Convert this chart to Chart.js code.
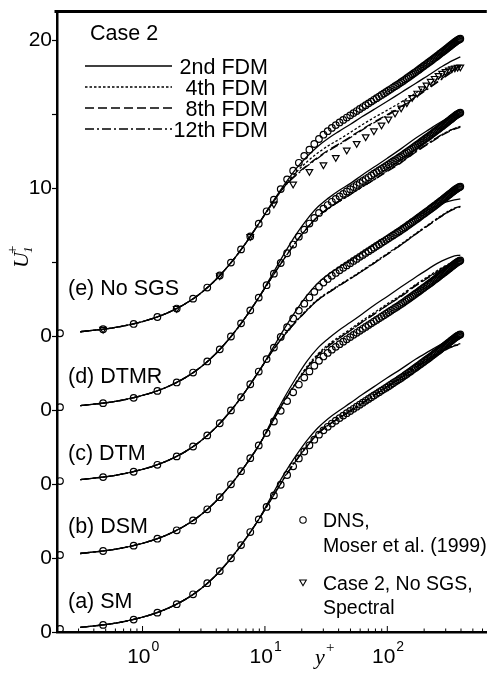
<!DOCTYPE html>
<html lang="en">
<head>
<meta charset="UTF-8">
<title>Case 2 mean velocity profiles</title>
<script src="https://cdn.jsdelivr.net/npm/chart.js@4"></script>
<style>
  html, body { margin: 0; padding: 0; background: #fff; overflow: hidden; }
</style>
</head>
<body>
<canvas id="profileChart" width="492" height="677"></canvas>
<script>
// ---- values ----
const caseNames = ['(a) SM', '(b) DSM', '(c) DTM', '(d) DTMR', '(e) No SGS'];
const caseOffsets = [0, 5, 10, 15, 20];           // each profile is shifted up by 5
const schemeNames = ['2nd FDM', '4th FDM', '8th FDM', '12th FDM'];
const xLabelPowers = [0, 1, 2];
const yTickValues = [0, 5, 10, 15, 20, 30, 40];
const yTickText = ['0', '0', '0', '0', '0', '10', '20'];

// DNS, Moser et al. (1999), Re_tau = 395
const dnsYplus = [0.2115, 0.476, 0.846, 1.322, 1.902, 2.588, 3.379, 4.275, 5.276, 6.38,
  7.59, 8.902, 10.318, 11.838, 13.459, 15.18, 17.01, 18.93, 20.96,
  23.09, 25.32, 27.65, 30.07, 32.58, 35.21, 37.92, 40.73, 43.64, 46.64,
  49.73, 52.92, 56.20, 59.56, 63.04, 66.57, 70.23, 73.95, 77.73, 81.63,
  85.65, 89.66, 93.81, 98.02, 102.3, 106.7, 111.2, 115.7, 120.3, 125.0,
  129.7, 134.6, 139.5, 144.4, 149.5, 154.5, 159.7, 164.9, 170.2, 175.6,
  181.0, 186.4, 191.9, 197.5, 203.1, 208.8, 214.5, 220.3, 226.1, 232.0,
  237.9, 243.8, 249.9, 255.9, 261.9, 268.0, 274.2, 280.3, 286.6, 292.8,
  299.0, 305.3, 311.6, 317.9, 324.3, 330.7, 337.0, 343.4, 349.9, 356.3,
  362.7, 369.2, 375.6, 382.1, 388.5, 395.0];
const dnsU = [0.21, 0.48, 0.84, 1.31, 1.88, 2.55, 3.30, 4.12, 4.99, 5.88,
  6.76, 7.62, 8.46, 9.24, 9.96, 10.62, 11.21, 11.74, 12.21, 12.63,
  13.01, 13.35, 13.64, 13.88, 14.10, 14.29, 14.47, 14.64, 14.80, 14.95,
  15.10, 15.24, 15.38, 15.51, 15.64, 15.76, 15.88, 16.00, 16.11, 16.22,
  16.33, 16.43, 16.53, 16.63, 16.73, 16.83, 16.92, 17.01, 17.10, 17.19,
  17.28, 17.37, 17.46, 17.55, 17.63, 17.72, 17.80, 17.88, 17.96, 18.04,
  18.12, 18.20, 18.27, 18.35, 18.42, 18.49, 18.56, 18.63, 18.70, 18.77,
  18.84, 18.90, 18.97, 19.03, 19.10, 19.16, 19.22, 19.28, 19.34, 19.40,
  19.46, 19.52, 19.58, 19.63, 19.69, 19.74, 19.80, 19.85, 19.90, 19.95,
  19.99, 20.03, 20.07, 20.10, 20.13];

// LES grid and the near-wall part shared by all runs (y+ < 10)
const lesYplus = [0.31, 0.6, 1, 1.5, 2.2, 3, 4, 5.3, 7, 9,
  11.5, 14.5, 18, 22, 27, 33, 40, 50, 62, 78, 100, 130, 170, 220, 280, 340, 395];
const lesWallU = [0.31, 0.6, 1.0, 1.49, 2.17, 2.93, 3.86, 5.0, 6.33, 7.68];

// (a) SM, from y+ = 11.5 outwards
const sm2  = [9.3, 10.75, 11.95, 12.95, 13.8, 14.45, 14.95, 15.5, 16.05, 16.6, 17.2, 17.8, 18.45, 19.0, 19.5, 19.85, 20.0];
const sm4  = [9.15, 10.5, 11.65, 12.6, 13.45, 14.05, 14.5, 15.0, 15.5, 16.05, 16.65, 17.25, 17.95, 18.55, 19.05, 19.35, 19.5];
const sm8  = [9.1, 10.45, 11.6, 12.55, 13.4, 14.0, 14.45, 14.95, 15.45, 16.0, 16.6, 17.2, 17.9, 18.5, 19.0, 19.3, 19.45];
const sm12 = [9.1, 10.45, 11.6, 12.55, 13.4, 14.0, 14.45, 14.95, 15.45, 16.0, 16.6, 17.2, 17.85, 18.45, 18.95, 19.3, 19.5];
// (b) DSM
const dsm2  = [9.35, 10.9, 12.2, 13.3, 14.2, 14.85, 15.4, 15.95, 16.5, 17.1, 17.7, 18.35, 19.0, 19.6, 20.1, 20.4, 20.5];
const dsm4  = [9.25, 10.7, 11.9, 12.95, 13.8, 14.45, 14.95, 15.5, 16.05, 16.6, 17.2, 17.8, 18.5, 19.1, 19.65, 20.0, 20.15];
const dsm8  = [9.2, 10.65, 11.85, 12.85, 13.7, 14.35, 14.85, 15.4, 15.95, 16.5, 17.1, 17.7, 18.4, 19.0, 19.55, 19.95, 20.1];
const dsm12 = [9.2, 10.65, 11.85, 12.85, 13.7, 14.35, 14.85, 15.4, 15.95, 16.5, 17.1, 17.75, 18.45, 19.05, 19.6, 19.95, 20.1];
// (c) DTM
const dtm2  = [9.15, 10.55, 11.75, 12.75, 13.6, 14.2, 14.65, 15.15, 15.65, 16.2, 16.8, 17.4, 18.05, 18.6, 19.0, 19.2, 19.3];
const dtm4  = [9.0, 10.15, 11.05, 11.8, 12.5, 13.0, 13.45, 13.95, 14.45, 15.0, 15.6, 16.25, 16.95, 17.6, 18.2, 18.6, 18.8];
const dtm8  = [9.0, 10.1, 11.0, 11.75, 12.45, 12.95, 13.4, 13.9, 14.4, 14.95, 15.55, 16.2, 16.9, 17.55, 18.15, 18.55, 18.75];
const dtm12 = [9.0, 10.1, 11.0, 11.75, 12.45, 12.95, 13.4, 13.9, 14.4, 14.95, 15.55, 16.2, 16.9, 17.55, 18.15, 18.6, 18.8];
// (d) DTMR
const dtmr2  = [9.2, 10.65, 11.9, 12.9, 13.75, 14.35, 14.85, 15.35, 15.9, 16.45, 17.05, 17.7, 18.4, 19.0, 19.55, 19.9, 20.05];
const dtmr4  = [9.05, 10.3, 11.4, 12.3, 13.1, 13.65, 14.1, 14.6, 15.1, 15.6, 16.2, 16.8, 17.5, 18.1, 18.65, 19.0, 19.2];
const dtmr8  = [9.05, 10.3, 11.4, 12.3, 13.1, 13.65, 14.1, 14.6, 15.1, 15.6, 16.15, 16.75, 17.45, 18.05, 18.6, 18.95, 19.15];
const dtmr12 = [9.05, 10.3, 11.4, 12.3, 13.1, 13.65, 14.1, 14.6, 15.1, 15.6, 16.2, 16.8, 17.5, 18.1, 18.65, 19.0, 19.2];
// (e) No SGS
const nosgs2  = [9.07, 10.3, 11.35, 12.15, 12.85, 13.4, 13.85, 14.35, 14.85, 15.35, 15.9, 16.5, 17.1, 17.7, 18.25, 18.65, 18.9];
const nosgs4  = [9.0, 10.2, 11.1, 11.8, 12.4, 12.9, 13.3, 13.8, 14.3, 14.8, 15.3, 15.85, 16.45, 17.05, 17.6, 18.0, 18.3];
const nosgs8  = [9.0, 10.15, 10.95, 11.55, 12.1, 12.6, 13.0, 13.5, 14.0, 14.5, 15.0, 15.55, 16.2, 16.85, 17.45, 17.95, 18.3];
const nosgs12 = [9.0, 10.15, 10.9, 11.5, 12.05, 12.55, 12.95, 13.45, 13.95, 14.45, 14.95, 15.5, 16.15, 16.8, 17.4, 17.9, 18.25];

// Case 2, No SGS, spectral (only on profile e)
const specYplus = [0.476, 1.902, 4.275, 7.59, 11.84, 17.01, 23.09, 30.07, 37.92, 46.64,
  56.2, 66.57, 77.73, 89.66, 102.3, 115.7, 129.7, 144.4, 159.7, 175.6,
  191.9, 208.8, 226.1, 243.8, 261.9, 280.3, 299.0, 317.9, 337.0, 356.3, 375.6, 395.0];
const specU = [0.48, 1.89, 4.1, 6.75, 8.95, 10.3, 11.15, 11.6, 12.1, 12.6,
  13.05, 13.5, 13.9, 14.3, 14.7, 15.1, 15.45, 15.8, 16.15, 16.45,
  16.75, 17.0, 17.25, 17.45, 17.65, 17.8, 17.92, 18.02, 18.1, 18.16, 18.2, 18.22];

const caseRuns = [
  [sm2, sm4, sm8, sm12],
  [dsm2, dsm4, dsm8, dsm12],
  [dtm2, dtm4, dtm8, dtm12],
  [dtmr2, dtmr4, dtmr8, dtmr12],
  [nosgs2, nosgs4, nosgs8, nosgs12]
];

// ---- styling ----
const schemeDash = [[], [2.5, 2], [9, 4], [9, 3, 2, 3]];
const sansFont = '"Liberation Sans", Arial, sans-serif';
const serifFont = '"Liberation Serif", "Times New Roman", serif';

function toPoints(xs, ys, offset) {
  return xs.map((x, i) => ({ x: x, y: ys[i] + offset }));
}

const datasets = [];
caseOffsets.forEach((off, k) => {
  datasets.push({
    label: 'DNS ' + caseNames[k],
    data: toPoints(dnsYplus, dnsU, off),
    showLine: false,
    pointStyle: 'circle',
    pointRadius: 3.3,
    pointBorderWidth: 1.2,
    pointBorderColor: '#000',
    pointBackgroundColor: 'rgba(0,0,0,0)',
    clip: false
  });
  caseRuns[k].forEach((run, s) => {
    datasets.push({
      label: schemeNames[s] + ' ' + caseNames[k],
      data: toPoints(lesYplus, lesWallU.concat(run), off),
      showLine: true,
      borderColor: '#000',
      borderWidth: 1.3,
      borderDash: schemeDash[s],
      pointRadius: 0,
      cubicInterpolationMode: 'monotone',
      fill: false,
      clip: false
    });
  });
});
datasets.push({
  label: 'Case 2, No SGS, Spectral',
  data: toPoints(specYplus, specU, caseOffsets[4]),
  showLine: false,
  pointStyle: 'triangle',
  rotation: 180,
  pointRadius: 3.8,
  pointBorderWidth: 1.2,
  pointBorderColor: '#000',
  pointBackgroundColor: 'rgba(0,0,0,0)',
  clip: false
});

// text, frame and inward ticks that Chart.js does not draw by itself
const decorations = {
  id: 'decorations',
  afterDraw(chart) {
    const { ctx, chartArea } = chart;
    const xs = chart.scales.x;
    ctx.save();
    ctx.fillStyle = '#000';
    ctx.strokeStyle = '#000';

    // top frame line
    ctx.lineWidth = 3;
    ctx.beginPath();
    ctx.moveTo(chartArea.left - 2.5, chartArea.top - 1);
    ctx.lineTo(chartArea.right, chartArea.top - 1);
    ctx.stroke();

    // x ticks pointing into the plot
    ctx.lineWidth = 1;
    for (let e = -1; e <= 2; e++) {
      for (let m = 1; m <= 9; m++) {
        const v = m * Math.pow(10, e);
        if (v < xs.min || v > xs.max) continue;
        const px = xs.getPixelForValue(v);
        ctx.beginPath();
        ctx.moveTo(px, chartArea.bottom);
        ctx.lineTo(px, chartArea.bottom - (m === 1 ? 6 : 3.5));
        ctx.stroke();
      }
    }

    // x tick labels 10^n
    ctx.textBaseline = 'alphabetic';
    xLabelPowers.forEach(p => {
      const px = xs.getPixelForValue(Math.pow(10, p));
      ctx.font = '21px ' + sansFont;
      ctx.textAlign = 'right';
      ctx.fillText('10', px + 8, 663);
      ctx.font = '14px ' + sansFont;
      ctx.textAlign = 'left';
      ctx.fillText(String(p), px + 9, 651);
    });

    // x axis title y+
    ctx.textAlign = 'left';
    ctx.font = 'italic 22px ' + serifFont;
    ctx.fillText('y', 315, 664);
    ctx.font = '15px ' + serifFont;
    ctx.fillText('+', 326, 652);

    // y axis title U1+
    ctx.save();
    ctx.translate(28, 268);
    ctx.rotate(-Math.PI / 2);
    ctx.font = 'italic 22px ' + serifFont;
    ctx.fillText('U', 0, 0);
    ctx.font = 'italic 13px ' + serifFont;
    ctx.fillText('1', 15, 4);
    ctx.font = '15px ' + serifFont;
    ctx.fillText('+', 14, -11);
    ctx.restore();

    // Case 2 and the scheme key
    ctx.font = '21.5px ' + sansFont;
    ctx.textAlign = 'left';
    ctx.fillText('Case 2', 90, 40);
    const keyY = [66, 87, 108, 129];
    schemeNames.forEach((name, s) => {
      ctx.lineWidth = 1.3;
      ctx.setLineDash(schemeDash[s]);
      ctx.beginPath();
      ctx.moveTo(85, keyY[s]);
      ctx.lineTo(172, keyY[s]);
      ctx.stroke();
      ctx.setLineDash([]);
      ctx.textAlign = 'right';
      ctx.fillText(name, 268, keyY[s] + 7.5);
    });

    // profile labels
    const labelY = [608, 533, 459.5, 382.5, 294.5];
    ctx.textAlign = 'left';
    caseNames.forEach((name, k) => ctx.fillText(name, 68, labelY[k]));

    // symbol key, bottom right
    ctx.lineWidth = 1.1;
    ctx.beginPath();
    ctx.arc(303, 520, 3.2, 0, Math.PI * 2);
    ctx.stroke();
    ctx.beginPath();
    ctx.moveTo(299.7, 580);
    ctx.lineTo(306.3, 580);
    ctx.lineTo(303, 585.7);
    ctx.closePath();
    ctx.stroke();
    ctx.font = '19.5px ' + sansFont;
    ctx.fillText('DNS,', 323, 527);
    ctx.fillText('Moser et al. (1999)', 323, 552);
    ctx.fillText('Case 2, No SGS,', 323, 590);
    ctx.fillText('Spectral', 323, 614);

    ctx.restore();
  }
};

new Chart(document.getElementById('profileChart'), {
  type: 'scatter',
  data: { datasets: datasets },
  options: {
    responsive: false,
    devicePixelRatio: 1,
    animation: false,
    events: [],
    layout: { padding: { top: 10, right: 0, bottom: 0, left: 0 } },
    plugins: { legend: { display: false }, tooltip: { enabled: false } },
    scales: {
      x: {
        type: 'logarithmic',
        min: 0.2,
        max: 650,
        grid: { display: false },
        border: { display: true, color: '#000', width: 2.5 },
        ticks: { display: false },
        afterFit: s => { s.height = 45; }
      },
      y: {
        type: 'linear',
        min: 0,
        max: 41.9,
        grid: { drawOnChartArea: false, tickLength: 5, tickColor: '#000', tickWidth: 1.2 },
        border: { display: true, color: '#000', width: 2.5 },
        ticks: {
          stepSize: 5,
          includeBounds: false,
          autoSkip: false,
          padding: 0,
          color: '#000',
          font: { family: sansFont, size: 21 },
          callback: v => {
            const i = yTickValues.indexOf(v);
            return i >= 0 ? yTickText[i] : '';
          }
        },
        afterFit: s => { s.width = 57; }
      }
    }
  },
  plugins: [decorations]
});
</script>
</body>
</html>
